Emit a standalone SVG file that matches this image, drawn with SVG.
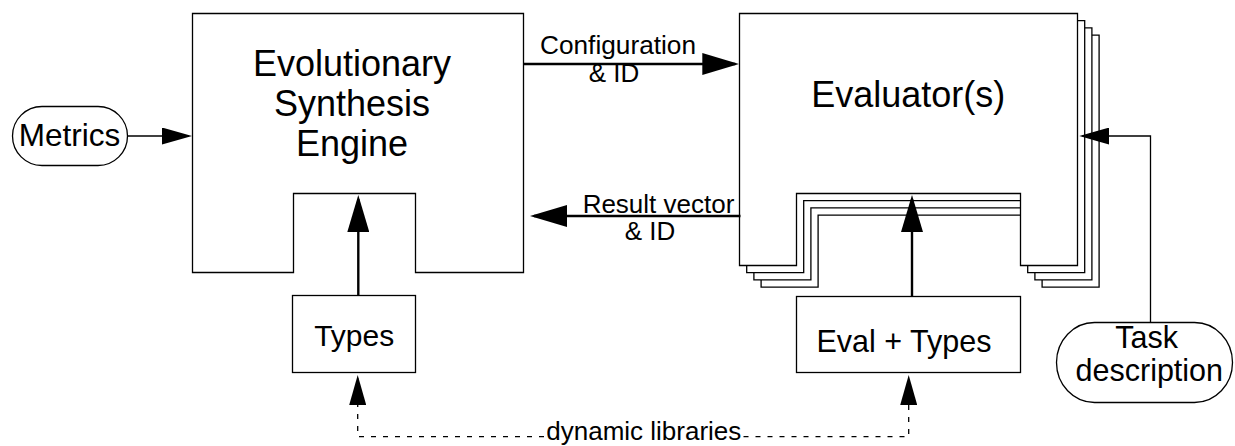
<svg xmlns="http://www.w3.org/2000/svg" width="1235" height="446" viewBox="0 0 1235 446">
  <style>
    .box { fill: #fff; stroke: #000; stroke-width: 1.3; stroke-linejoin: miter; }
    .thick { fill: none; stroke: #000; stroke-width: 2.4; }
    .thin { fill: none; stroke: #000; stroke-width: 1.3; }
    .dash { fill: none; stroke: #000; stroke-width: 1.3; stroke-dasharray: 5 7; }
    text { font-family: "Liberation Sans", Arial, Helvetica, sans-serif; fill: #000; text-anchor: middle; }
    .big { font-size: 36px; }
    .mid { font-size: 31px; }
    .lab { font-size: 26px; }
  </style>
  <defs>
    <!-- large head for the thick data-flow arrows -->
    <marker id="headL" markerUnits="userSpaceOnUse" viewBox="0 0 37 22" refX="33" refY="11" markerWidth="37" markerHeight="22" orient="auto">
      <path d="M0,0 L37,11 L0,22 z" fill="#000"/>
    </marker>
    <!-- small head for the thin input arrows -->
    <marker id="headS" markerUnits="userSpaceOnUse" viewBox="0 0 30 17" refX="27" refY="8.5" markerWidth="30" markerHeight="17" orient="auto">
      <path d="M0,0 L30,8.5 L0,17 z" fill="#000"/>
    </marker>
    <!-- block with a notch cut into its bottom edge -->
    <path id="evalShape" d="M739.5,13.5 H1077.5 V265.5 H1020.5 V193.5 H796.5 V265.5 H739.5 Z"/>
  </defs>

  <g id="metrics">
    <rect class="box" x="12.5" y="106.5" width="115" height="59" rx="29.5" ry="29.5"/>
    <text class="mid" x="69.5" y="145.7" style="font-size:31.5px">Metrics</text>
  </g>

  <g id="engine">
    <path class="box" d="M192.5,13.5 H523.5 V272.5 H415.5 V193.5 H293.5 V272.5 H192.5 Z"/>
    <text class="big" x="352" y="76">Evolutionary</text>
    <text class="big" x="352" y="115.5">Synthesis</text>
    <text class="big" x="352" y="155.5">Engine</text>
  </g>

  <g id="evaluators">
    <!-- stacked copies, back to front -->
    <use href="#evalShape" class="box" transform="translate(21.6,21.6)"/>
    <use href="#evalShape" class="box" transform="translate(14.4,14.4)"/>
    <use href="#evalShape" class="box" transform="translate(7.2,7.2)"/>
    <use href="#evalShape" class="box"/>
    <text class="big" x="908.3" y="106.7">Evaluator(s)</text>
  </g>

  <g id="types">
    <rect class="box" x="292.5" y="295.5" width="123" height="77"/>
    <text class="mid" x="354.2" y="345.7" style="font-size:30px">Types</text>
  </g>

  <g id="eval-types">
    <rect class="box" x="796.5" y="296.5" width="224" height="76"/>
    <text class="mid" x="904" y="351.7" style="font-size:30.5px">Eval + Types</text>
  </g>

  <g id="task">
    <rect class="box" x="1056.5" y="322.5" width="176" height="80" rx="38" ry="40"/>
    <text class="mid" x="1146.7" y="348" style="font-size:30.5px">Task</text>
    <text class="mid" x="1149.3" y="380.5" style="font-size:30.5px">description</text>
  </g>

  <g id="connectors">
    <line class="thin" x1="127.7" y1="136" x2="189" y2="136" marker-end="url(#headS)"/>
    <line class="thick" x1="524" y1="64" x2="735.3" y2="64" marker-end="url(#headL)"/>
    <line class="thick" x1="740.5" y1="216" x2="534" y2="216" marker-end="url(#headL)"/>
    <line class="thick" x1="358.3" y1="295.5" x2="358.3" y2="199" marker-end="url(#headL)"/>
    <line class="thick" x1="912" y1="296.5" x2="912" y2="199" marker-end="url(#headL)"/>
    <path class="thin" d="M1150.5,322.5 V136 H1082.3" marker-end="url(#headS)"/>
    <path class="dash" d="M544,436.7 H357.7 V378" marker-end="url(#headS)"/>
    <path class="dash" d="M743.5,436.7 H908.7 V378" marker-end="url(#headS)"/>
    <text class="lab" x="618" y="54.3" textLength="156" lengthAdjust="spacingAndGlyphs">Configuration</text>
    <text class="lab" x="614" y="81.7">&amp; ID</text>
    <text class="lab" x="658.5" y="212.7">Result vector</text>
    <text class="lab" x="650" y="240">&amp; ID</text>
    <text class="lab" x="643.8" y="440">dynamic libraries</text>
  </g>
</svg>
